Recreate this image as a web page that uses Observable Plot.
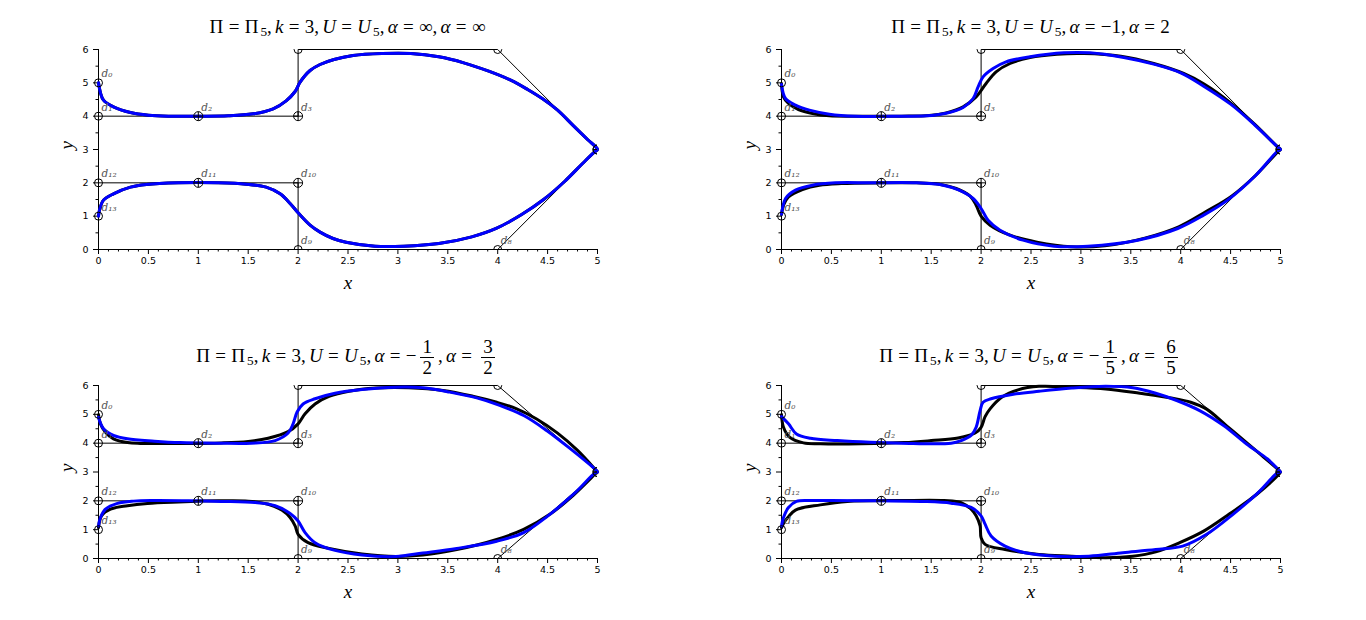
<!DOCTYPE html>
<html>
<head>
<meta charset="utf-8">
<script src="https://cdn.jsdelivr.net/npm/d3@7"></script>
<script src="https://cdn.jsdelivr.net/npm/@observablehq/plot@0.6"></script>
<style>
  html, body { margin: 0; padding: 0; background: #ffffff; }
  #root { position: relative; width: 1366px; height: 620px; background: #ffffff; overflow: hidden; }
  .panel { position: absolute; }
  .title { position: absolute; text-align: center; font-family: "Liberation Serif", "DejaVu Serif", serif; font-size: 19px; color: #000; white-space: nowrap; line-height: 22px; }
  .title sub { font-size: 70%; position: relative; top: 0.2em; vertical-align: baseline; line-height: 0; margin-left: 2px; }
  .title .eq { padding: 0 0.28em; }
  .title .cm { padding-right: 0.17em; }
  .frac { display: inline-block; vertical-align: middle; text-align: center; margin: 0 4px; }
  .frac > span { display: block; line-height: 20px; padding: 0 2px; }
  .frac > span.den { border-top: 1px solid #000; }
</style>
</head>
<body>
<div id="root"></div>
<script>
// ---------- data ----------
// control polygon d0..d13
const ctrlX = [0, 0, 1, 2, 2, 4, 5, 5, 4, 2, 2, 1, 0, 0];
const ctrlY = [5, 4, 4, 4, 6, 6, 3, 3, 0, 0, 2, 2, 2, 1];
const ctrlLabels = ["d₀","d₁","d₂","d₃","d₄","d₅","d₆","d₇","d₈","d₉","d₁₀","d₁₁","d₁₂","d₁₃"];
const plusPoints = [2, 3, 6, 7, 10, 11];

// axis ticks
const xMajor = [0, 0.5, 1, 1.5, 2, 2.5, 3, 3.5, 4, 4.5, 5];
const yMajor = [0, 1, 2, 3, 4, 5, 6];
const yMinor = [0.5, 1.5, 2.5, 3.5, 4.5, 5.5];

// curves, [x, y]
const curve1 = [[0,5],[0.02,4.7],[0.05,4.48],[0.15,4.28],[0.32,4.11],[0.5,4.03],[0.7,4.0],[1.0,4.0],[1.3,4.01],[1.55,4.07],[1.75,4.22],[1.88,4.46],[1.97,4.74],[2.02,5.02],[2.12,5.37],[2.22,5.55],[2.36,5.7],[2.55,5.82],[2.84,5.88],[3.13,5.88],[3.41,5.78],[3.66,5.6],[3.91,5.35],[4.13,5.08],[4.3,4.8],[4.45,4.52],[4.6,4.18],[4.75,3.74],[4.9,3.3],[5,3.0],
  [4.97,2.93],[4.85,2.58],[4.67,2.04],[4.46,1.5],[4.24,1.05],[3.99,0.64],[3.74,0.38],[3.41,0.18],[3.06,0.1],[2.77,0.1],[2.48,0.22],[2.35,0.33],[2.22,0.52],[2.12,0.73],[2.0,1.1],[1.92,1.38],[1.82,1.67],[1.68,1.87],[1.48,1.96],[1.2,2.0],[0.8,2.0],[0.48,1.95],[0.32,1.87],[0.15,1.67],[0.05,1.48],[0.01,1.18],[0,1.0]];

const curve2Black = [[0,4.98],[0.02,4.58],[0.07,4.38],[0.17,4.2],[0.31,4.08],[0.48,4.01],[0.8,4.0],[1.2,4.0],[1.48,4.02],[1.65,4.1],[1.82,4.28],[1.95,4.58],[2.05,4.98],[2.15,5.33],[2.29,5.58],[2.49,5.76],[2.76,5.86],[3.03,5.88],[3.4,5.8],[3.73,5.58],[4.03,5.28],[4.23,4.97],[4.5,4.4],[4.74,3.76],[4.97,3.08],[5,3.0],
  [4.97,2.92],[4.75,2.22],[4.51,1.6],[4.25,1.13],[3.98,0.68],[3.64,0.34],[3.24,0.11],[2.9,0.08],[2.56,0.22],[2.29,0.43],[2.09,0.73],[2.0,1.0],[1.95,1.33],[1.89,1.6],[1.75,1.83],[1.58,1.96],[1.35,2.0],[1.0,2.0],[0.6,1.98],[0.38,1.93],[0.21,1.8],[0.07,1.58],[0.02,1.33],[0,1.05]];
const curve2Blue = [[0,4.95],[0.04,4.53],[0.14,4.33],[0.28,4.18],[0.48,4.06],[0.74,4.0],[1.2,4.0],[1.45,4.01],[1.65,4.09],[1.82,4.26],[1.92,4.53],[1.97,4.88],[2.02,5.18],[2.12,5.43],[2.25,5.63],[2.49,5.78],[2.83,5.9],[3.09,5.9],[3.43,5.76],[3.73,5.56],[4.0,5.3],[4.23,4.9],[4.5,4.36],[4.74,3.74],[4.97,3.08],[5,3.0],
  [4.97,2.95],[4.75,2.22],[4.47,1.48],[4.23,1.03],[3.97,0.63],[3.57,0.28],[3.07,0.1],[2.73,0.1],[2.42,0.28],[2.19,0.58],[2.07,0.88],[2.0,1.23],[1.92,1.53],[1.78,1.78],[1.62,1.93],[1.35,2.0],[0.9,2.0],[0.54,2.0],[0.31,1.93],[0.14,1.78],[0.04,1.53],[0.01,1.23],[0,1.06]];

const curve3Black = [[0,4.99],[0.02,4.67],[0.07,4.38],[0.15,4.15],[0.29,4.02],[0.42,3.99],[0.8,3.99],[1.23,4.01],[1.5,4.06],[1.7,4.17],[1.9,4.4],[2.0,4.67],[2.07,5.02],[2.17,5.36],[2.31,5.62],[2.51,5.8],[2.78,5.91],[3.11,5.92],[3.45,5.83],[3.75,5.63],[3.99,5.42],[4.19,5.19],[4.39,4.84],[4.6,4.35],[4.8,3.75],[4.98,3.08],[5,3.0],
  [4.98,2.94],[4.76,2.2],[4.53,1.55],[4.26,1.01],[3.99,0.66],[3.59,0.31],[3.25,0.12],[2.98,0.07],[2.64,0.16],[2.31,0.35],[2.1,0.55],[2.0,0.84],[1.97,1.13],[1.92,1.42],[1.84,1.67],[1.7,1.88],[1.5,1.99],[1.2,2.0],[0.8,1.96],[0.49,1.91],[0.29,1.83],[0.12,1.71],[0.03,1.48],[0,1.07]];
const curve3Blue = [[0,4.9],[0.05,4.5],[0.15,4.27],[0.29,4.15],[0.56,4.07],[0.82,4.02],[1.2,4.0],[1.53,4.0],[1.77,4.09],[1.9,4.35],[1.95,4.67],[1.99,5.08],[2.05,5.36],[2.17,5.54],[2.37,5.73],[2.64,5.86],[2.98,5.94],[3.25,5.92],[3.52,5.77],[3.79,5.57],[4.02,5.31],[4.26,4.96],[4.49,4.44],[4.73,3.8],[4.98,3.08],[5,3.0],
  [4.98,2.98],[4.76,2.23],[4.5,1.47],[4.26,0.9],[3.99,0.6],[3.59,0.35],[3.25,0.19],[2.98,0.07],[2.64,0.12],[2.37,0.28],[2.17,0.55],[2.07,0.9],[2.0,1.3],[1.92,1.56],[1.77,1.83],[1.57,1.94],[1.23,1.98],[0.9,2.0],[0.56,2.01],[0.35,1.99],[0.19,1.91],[0.07,1.71],[0.02,1.42],[0,1.13]];

const curve4Black = [[0,4.99],[0.02,4.55],[0.08,4.21],[0.22,4.01],[0.39,3.98],[0.8,3.98],[1.23,4.02],[1.5,4.09],[1.77,4.18],[1.94,4.35],[2.0,4.55],[2.04,4.92],[2.09,5.19],[2.21,5.6],[2.37,5.85],[2.58,5.97],[2.91,5.94],[3.25,5.88],[3.59,5.73],[3.92,5.56],[4.1,5.42],[4.26,5.18],[4.46,4.6],[4.66,4.02],[4.83,3.52],[4.99,3.04],[5,3.0],
  [4.99,2.95],[4.76,2.22],[4.49,1.55],[4.23,0.95],[3.99,0.55],[3.75,0.23],[3.52,0.08],[3.25,0.03],[2.91,0.08],[2.58,0.14],[2.24,0.31],[2.04,0.49],[2.0,0.72],[1.99,1.13],[1.95,1.48],[1.9,1.71],[1.8,1.94],[1.63,2.01],[1.2,2.01],[0.66,1.98],[0.39,1.86],[0.14,1.68],[0.07,1.45],[0.03,1.28],[0,1.07]];
const curve4Blue = [[0,4.92],[0.07,4.67],[0.15,4.32],[0.29,4.17],[0.56,4.09],[0.89,4.03],[1.2,4.0],[1.7,4.0],[1.8,4.09],[1.9,4.27],[1.95,4.55],[1.99,5.13],[2.02,5.42],[2.1,5.54],[2.31,5.69],[2.58,5.8],[2.91,5.91],[3.25,5.97],[3.52,5.92],[3.75,5.73],[3.96,5.48],[4.19,5.13],[4.43,4.61],[4.66,3.97],[4.87,3.45],[4.98,3.08],[5,3.0],
  [4.98,3.0],[4.76,2.23],[4.53,1.55],[4.26,0.84],[4.02,0.43],[3.75,0.31],[3.42,0.2],[3.08,0.08],[2.74,0.08],[2.44,0.2],[2.24,0.43],[2.1,0.78],[2.04,1.19],[2.0,1.48],[1.9,1.77],[1.7,1.92],[1.4,1.98],[0.99,2.0],[0.5,2.01],[0.29,2.01],[0.15,1.98],[0.07,1.77],[0.02,1.42],[0,1.13]];

// titles
const frac = (n, d) => `<span class="frac"><span>${n}</span><span class="den">${d}</span></span>`;
const EQ = `<span class="eq">=</span>`;
const CM = `<span class="cm">,</span>`;
const head = `Π${EQ}Π<sub>5</sub>${CM}<i>k</i>${EQ}3${CM}<i>U</i>${EQ}<i>U</i><sub>5</sub>${CM}<i>α</i>${EQ}`;
const titles = [
  head + `∞${CM}<i>α</i>${EQ}∞`,
  head + `−1${CM}<i>α</i>${EQ}2`,
  head + `−` + frac("1", "2") + `${CM}<i>α</i>${EQ}` + frac("3", "2"),
  head + `−` + frac("1", "5") + `${CM}<i>α</i>${EQ}` + frac("6", "5")
];

// ---------- drawing ----------
const ctrl = ctrlX.map((x, i) => ({x, y: ctrlY[i], label: ctrlLabels[i], plus: plusPoints.includes(i)}));
// labels of points on the top or right border fall outside the frame (clipped in the reference)
const ctrlLabelled = ctrl.filter(d => d.y < 6 && d.x < 5);
const xMinor = d3.range(0, 51).map(i => i / 10).filter(v => Math.abs(v * 2 - Math.round(v * 2)) > 1e-9);

const circlePlus = {
  draw(ctx, size) {
    const r = Math.sqrt(size / Math.PI);
    ctx.moveTo(r, 0); ctx.arc(0, 0, r, 0, 2 * Math.PI);
    ctx.moveTo(-r, 0); ctx.lineTo(r, 0);
    ctx.moveTo(0, -r); ctx.lineTo(0, r);
  }
};

const panels = [
  {left: 0,   top: 40,  height: 260, mb: 51, titleTop: 16,  title: titles[0], black: curve1,      blue: curve1},
  {left: 683, top: 40,  height: 260, mb: 51, titleTop: 16,  title: titles[1], black: curve2Black, blue: curve2Blue},
  {left: 0,   top: 376, height: 244, mb: 62, titleTop: 337, title: titles[2], black: curve3Black, blue: curve3Blue},
  {left: 683, top: 376, height: 244, mb: 62, titleTop: 337, title: titles[3], black: curve4Black, blue: curve4Blue}
];

const root = document.getElementById("root");
const serif = "Liberation Serif, DejaVu Serif, serif";

for (const p of panels) {
  const chart = Plot.plot({
    width: 683,
    height: p.height,
    marginLeft: 98,
    marginRight: 86,
    marginTop: 9,
    marginBottom: p.mb,
    style: {background: "transparent", fontFamily: "DejaVu Sans, sans-serif", fontSize: "9.5px", color: "#000", overflow: "visible"},
    x: {domain: [0, 5], axis: null},
    y: {domain: [0, 6], axis: null},
    marks: [
      // axes
      Plot.axisX({ticks: xMajor, tickSize: 5, tickPadding: 3, tickFormat: d => String(d), label: null}),
      Plot.axisX({ticks: xMinor, tickSize: 2.5, tickFormat: () => "", label: null}),
      Plot.axisY({ticks: yMajor, tickSize: 5, tickPadding: 5, tickFormat: d => String(d), label: null}),
      Plot.axisY({ticks: yMinor, tickSize: 2.5, tickFormat: () => "", label: null}),
      Plot.ruleY([0], {x1: 0, x2: 5, stroke: "#000", strokeWidth: 1}),
      Plot.ruleX([0], {y1: 0, y2: 6, stroke: "#000", strokeWidth: 1}),
      // control polygon
      Plot.line(ctrl, {x: "x", y: "y", stroke: "#000", strokeWidth: 1}),
      // curves
      Plot.line(p.black, {x: d => d[0], y: d => d[1], stroke: "#000", strokeWidth: 3, curve: "catmull-rom"}),
      Plot.line(p.blue, {x: d => d[0], y: d => d[1], stroke: "#0000ff", strokeWidth: 3, curve: "catmull-rom"}),
      // markers
      Plot.dot(ctrl.filter(d => !d.plus && d.x === 0), {x: "x", y: "y", r: 4, stroke: "#000", fill: "none", strokeWidth: 1}),
      Plot.dot(ctrl.filter(d => !d.plus && d.x > 0), {x: "x", y: "y", r: 4, stroke: "#000", fill: "none", strokeWidth: 1, clip: true}),
      Plot.dot(ctrl.filter(d => d.plus), {x: "x", y: "y", r: 4.5, symbol: circlePlus, stroke: "#000", fill: "none", strokeWidth: 1, clip: true}),
      // control point labels
      Plot.text(ctrlLabelled, {x: "x", y: "y", text: "label", dx: 3, dy: -9, textAnchor: "start", fill: "#555", fontStyle: "italic", fontFamily: "DejaVu Serif, serif", fontSize: 10.5, clip: true}),
      // axis labels
      Plot.text(["x"], {frameAnchor: "bottom", dy: 33, text: d => d, fontStyle: "italic", fontFamily: serif, fontSize: 19, lineAnchor: "middle"}),
      Plot.text(["y"], {frameAnchor: "left", dx: -32, text: d => d, rotate: -90, fontStyle: "italic", fontFamily: serif, fontSize: 19, lineAnchor: "middle"})
    ]
  });
  const div = document.createElement("div");
  div.className = "panel";
  div.style.left = p.left + "px";
  div.style.top = p.top + "px";
  div.appendChild(chart);
  root.appendChild(div);

  const t = document.createElement("div");
  t.className = "title";
  t.style.left = (p.left + 98) + "px";
  t.style.width = "499px";
  t.style.top = p.titleTop + "px";
  t.innerHTML = p.title;
  root.appendChild(t);
}
</script>
</body>
</html>
